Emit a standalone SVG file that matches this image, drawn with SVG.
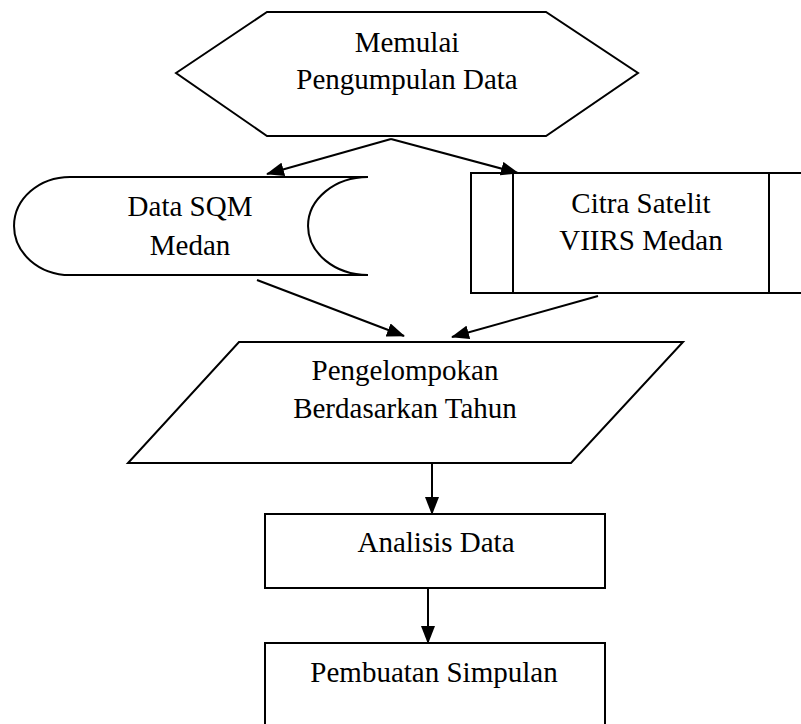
<svg xmlns="http://www.w3.org/2000/svg" width="801" height="724" viewBox="0 0 801 724">
<style>
.s{fill:#fff;stroke:#000;stroke-width:2;stroke-linejoin:miter}
.l{fill:none;stroke:#000;stroke-width:2}
.t{font-family:"Liberation Serif","Times New Roman",serif;font-size:29px;fill:#000;text-anchor:middle}
</style>
<defs>
<marker id="ah" markerWidth="18" markerHeight="14" refX="17" refY="7" orient="auto" markerUnits="userSpaceOnUse">
<path d="M0,0 L18,7 L0,14 Z" fill="#000"/>
</marker>
</defs>
<rect width="801" height="724" fill="#fff"/>
<g id="start">
<polygon class="s" points="176,73 267,12 546,12 638,73 546,136 267,136"/>
<text class="t" x="407" y="52">Memulai</text>
<text class="t" x="407" y="89">Pengumpulan Data</text>
</g>
<g id="sqm">
<path class="s" d="M368,177 L70,177 A56,49 0 0 0 70,275 L368,275"/>
<path class="l" d="M368,177 A60,49 0 0 0 368,275"/>
<text class="t" x="190" y="216">Data SQM</text>
<text class="t" x="190" y="255">Medan</text>
</g>
<g id="viirs">
<rect class="s" x="471" y="173" width="335" height="120"/>
<line class="l" x1="513" y1="173" x2="513" y2="293"/>
<line class="l" x1="769" y1="173" x2="769" y2="293"/>
<text class="t" x="641" y="213">Citra Satelit</text>
<text class="t" x="641" y="250">VIIRS Medan</text>
</g>
<g id="group">
<polygon class="s" points="239,342 683,342 571,463 128,463"/>
<text class="t" x="405" y="380">Pengelompokan</text>
<text class="t" x="405" y="418">Berdasarkan Tahun</text>
</g>
<g id="analisis">
<rect class="s" x="265" y="514" width="340" height="74"/>
<text class="t" x="436" y="552">Analisis Data</text>
</g>
<g id="simpulan">
<rect class="s" x="265" y="643" width="340" height="90"/>
<text class="t" x="434" y="682">Pembuatan Simpulan</text>
</g>
<g id="connectors">
<line class="l" x1="391" y1="139" x2="267" y2="174" marker-end="url(#ah)"/>
<line class="l" x1="391" y1="139" x2="518" y2="173" marker-end="url(#ah)"/>
<line class="l" x1="257" y1="280" x2="404" y2="336" marker-end="url(#ah)"/>
<line class="l" x1="598" y1="296" x2="452" y2="337" marker-end="url(#ah)"/>
<line class="l" x1="432" y1="463" x2="432" y2="514" marker-end="url(#ah)"/>
<line class="l" x1="428" y1="588" x2="428" y2="643" marker-end="url(#ah)"/>
</g>
</svg>
